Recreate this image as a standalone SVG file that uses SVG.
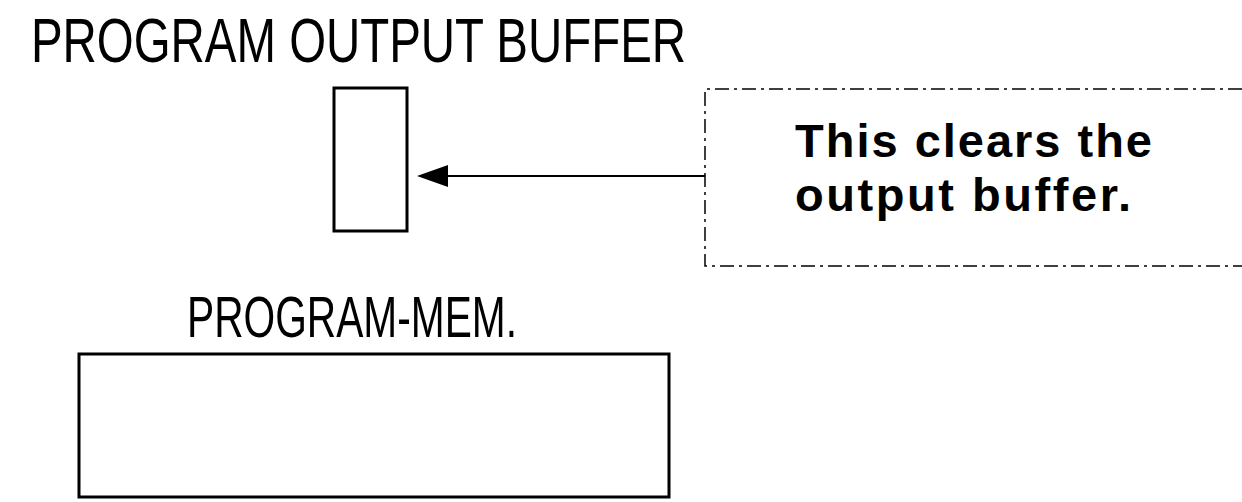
<svg xmlns="http://www.w3.org/2000/svg" width="1242" height="502" viewBox="0 0 1242 502">
<style>
.lbl{font-family:"Liberation Sans",Arial,sans-serif;fill:#000;font-weight:normal}
.note{font-family:"Liberation Sans",Arial,sans-serif;font-weight:bold;fill:#000}
.box{fill:#fff;stroke:#000;stroke-width:3}
.call{fill:none;stroke:#000;stroke-width:1.5;stroke-dasharray:14 5 3 5}
.conn{stroke:#000;stroke-width:1.8;fill:none}
</style>
<rect width="1242" height="502" fill="#fff"/>
<g id="output-buffer">
<text class="lbl" x="31" y="62" font-size="63" textLength="655" lengthAdjust="spacingAndGlyphs">PROGRAM OUTPUT BUFFER</text>
<rect class="box" x="334" y="88" width="73" height="143"/>
</g>
<g id="program-mem">
<text class="lbl" x="187" y="337" font-size="58" textLength="330" lengthAdjust="spacingAndGlyphs">PROGRAM-MEM.</text>
<rect class="box" x="79" y="354" width="590" height="143"/>
</g>
<g id="note">
<path class="call" d="M1242,89 L705,89 L705,266 L1242,266"/>
<text class="note" x="795" y="157" font-size="47" textLength="357" lengthAdjust="spacing">This clears the</text>
<text class="note" x="795" y="211" font-size="47" textLength="336" lengthAdjust="spacing">output buffer.</text>
</g>
<g id="connectors">
<line class="conn" x1="705" y1="176" x2="440" y2="176"/>
<path d="M417,176 L448,165 L448,187 Z" fill="#000"/>
</g>
</svg>
